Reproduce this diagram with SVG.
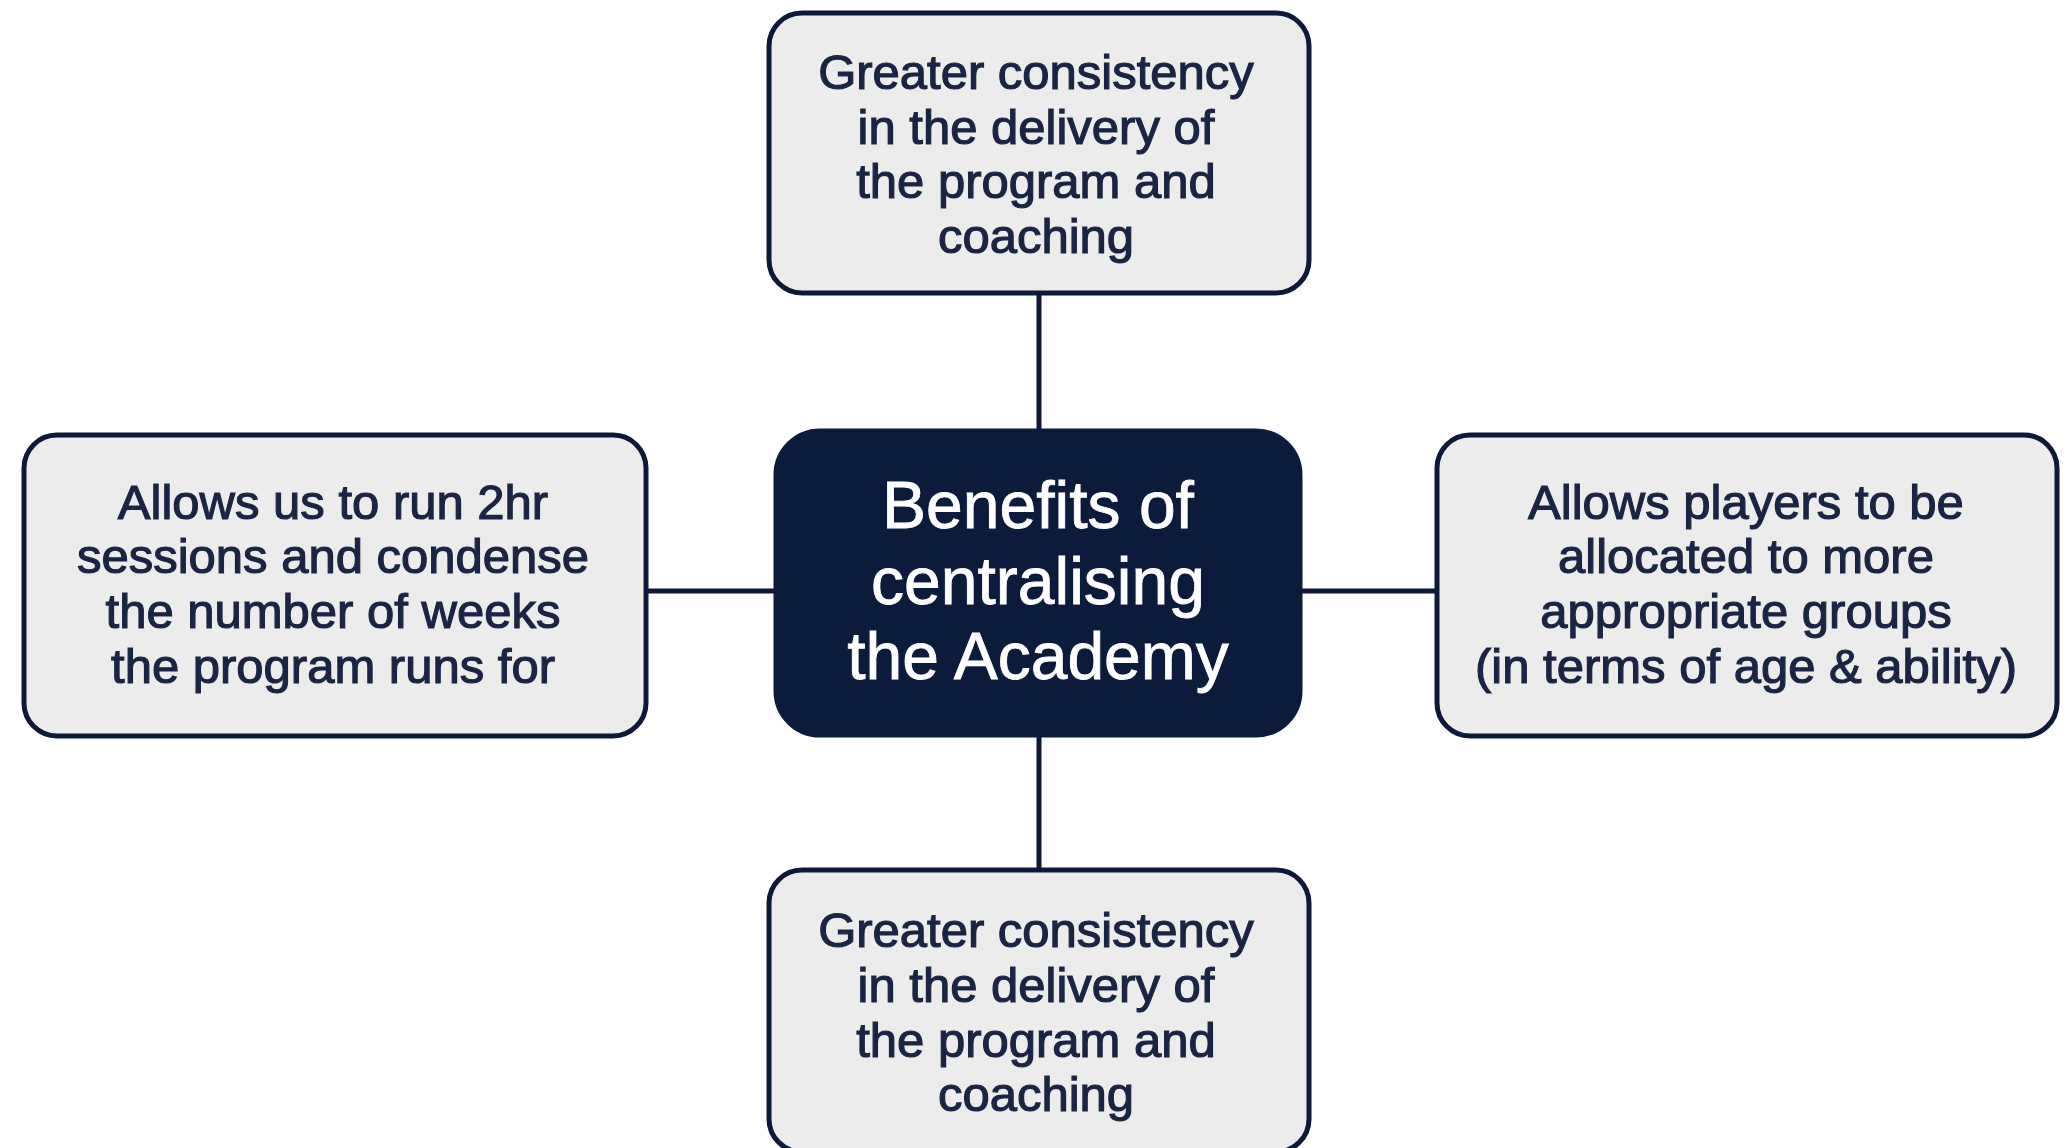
<svg xmlns="http://www.w3.org/2000/svg" width="2067" height="1148" viewBox="0 0 2067 1148">
<style>
.box{fill:#ececed;stroke:#0e1838;stroke-width:5}
.core{fill:#0c1a3b;stroke:#0c1a3b;stroke-width:3}
.t{font-family:"Liberation Sans",Arial,sans-serif;font-size:49px;fill:#1b2443;stroke:#1b2443;stroke-width:1.2;text-anchor:middle}
.c{font-family:"Liberation Sans",Arial,sans-serif;font-size:66px;fill:#ffffff;stroke:#ffffff;stroke-width:0.8;text-anchor:middle}
.ln{stroke:#0e1838;stroke-width:5;fill:none}
</style>
<rect width="2067" height="1148" fill="#ffffff"/>
<g id="connectors">
<line class="ln" x1="1039" y1="293" x2="1039" y2="430"/>
<line class="ln" x1="1039" y1="736" x2="1039" y2="870"/>
<line class="ln" x1="646" y1="591" x2="775" y2="591"/>
<line class="ln" x1="1301" y1="591" x2="1437" y2="591"/>
</g>
<g id="center">
<rect class="core" x="775" y="430" width="526" height="306" rx="45"/>
<text class="c" x="1038" y="528">Benefits of</text>
<text class="c" x="1038" y="604">centralising</text>
<text class="c" x="1038" y="679">the Academy</text>
</g>
<g id="top">
<rect class="box" x="769" y="13" width="540" height="280" rx="33"/>
<text class="t" x="1036" y="89">Greater consistency</text>
<text class="t" x="1036" y="144">in the delivery of</text>
<text class="t" x="1036" y="198">the program and</text>
<text class="t" x="1036" y="253">coaching</text>
</g>
<g id="left">
<rect class="box" x="24" y="435" width="622" height="301" rx="33"/>
<text class="t" x="333" y="519">Allows us to run 2hr</text>
<text class="t" x="333" y="573">sessions and condense</text>
<text class="t" x="333" y="628">the number of weeks</text>
<text class="t" x="333" y="683">the program runs for</text>
</g>
<g id="right">
<rect class="box" x="1437" y="435" width="620" height="301" rx="33"/>
<text class="t" x="1746" y="519">Allows players to be</text>
<text class="t" x="1746" y="573">allocated to more</text>
<text class="t" x="1746" y="628">appropriate groups</text>
<text class="t" x="1746" y="683">(in terms of age &amp; ability)</text>
</g>
<g id="bottom">
<rect class="box" x="769" y="870" width="540" height="282" rx="33"/>
<text class="t" x="1036" y="947">Greater consistency</text>
<text class="t" x="1036" y="1002">in the delivery of</text>
<text class="t" x="1036" y="1057">the program and</text>
<text class="t" x="1036" y="1111">coaching</text>
</g>
</svg>
